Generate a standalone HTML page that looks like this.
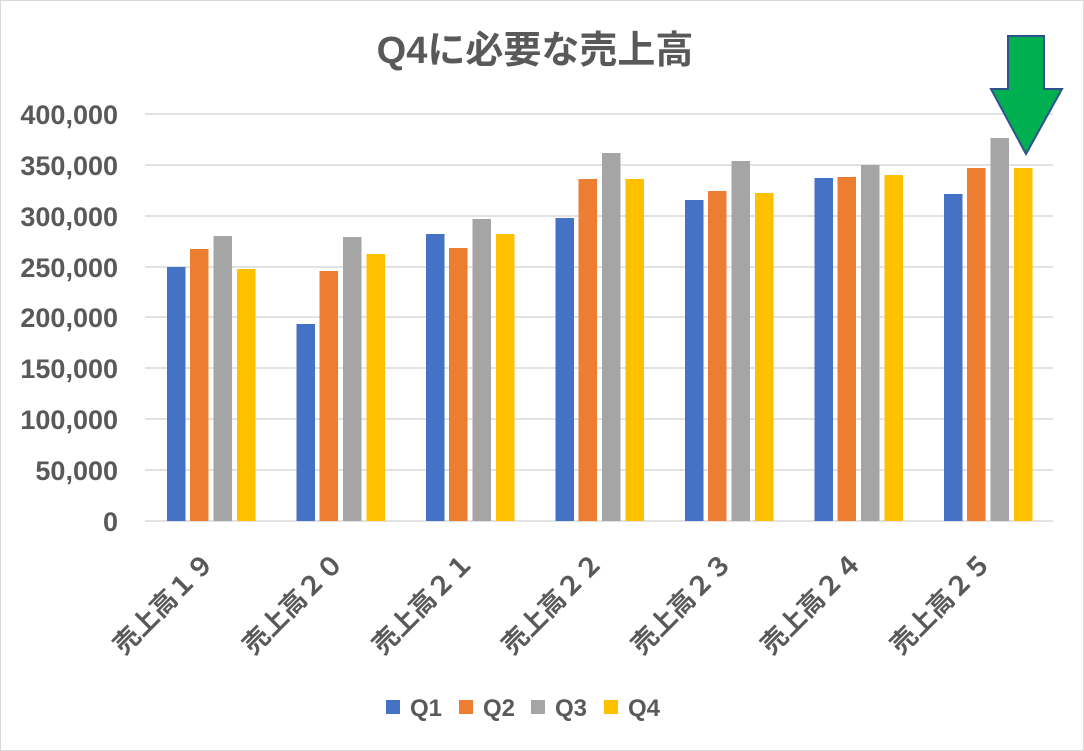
<!DOCTYPE html>
<html><head><meta charset="utf-8"><style>
html,body{margin:0;padding:0;background:#fff}
svg{display:block;font-family:"Liberation Sans","Noto Sans CJK JP",sans-serif}
</style></head><body>
<svg width="1084" height="751" xmlns="http://www.w3.org/2000/svg">
<rect x="0.5" y="0.5" width="1083" height="750" fill="#fff" stroke="#d9d9d9"/>
<text x="535" y="63" text-anchor="middle" font-size="38" font-weight="bold" fill="#595959">Q4に必要な売上高</text>
<g stroke="#d9d9d9" stroke-width="1.5">
<line x1="145" x2="1053" y1="114" y2="114"/><line x1="145" x2="1053" y1="165" y2="165"/>
<line x1="145" x2="1053" y1="216" y2="216"/><line x1="145" x2="1053" y1="267" y2="267"/>
<line x1="145" x2="1053" y1="317" y2="317"/><line x1="145" x2="1053" y1="368" y2="368"/>
<line x1="145" x2="1053" y1="419" y2="419"/><line x1="145" x2="1053" y1="470" y2="470"/>
<line x1="145" x2="1053" y1="521" y2="521"/>
</g>
<g font-size="27" font-weight="bold" fill="#595959" text-anchor="end">
<text x="118" y="124">400,000</text><text x="118" y="175">350,000</text>
<text x="118" y="226">300,000</text><text x="118" y="277">250,000</text>
<text x="118" y="327">200,000</text><text x="118" y="378">150,000</text>
<text x="118" y="429">100,000</text><text x="118" y="480">50,000</text>
<text x="118" y="531">0</text>
</g>
<g>
<rect x="167" y="267" width="18.5" height="254" fill="#4472C4"/>
<rect x="190" y="249" width="18.5" height="272" fill="#ED7D31"/>
<rect x="213.5" y="236" width="18.5" height="285" fill="#A5A5A5"/>
<rect x="237" y="269" width="18.5" height="252" fill="#FFC000"/>

<rect x="296.5" y="324" width="18.5" height="197" fill="#4472C4"/>
<rect x="319.5" y="271" width="18.5" height="250" fill="#ED7D31"/>
<rect x="343" y="237" width="18.5" height="284" fill="#A5A5A5"/>
<rect x="366.5" y="254" width="18.5" height="267" fill="#FFC000"/>

<rect x="426" y="234" width="18.5" height="287" fill="#4472C4"/>
<rect x="449" y="248" width="18.5" height="273" fill="#ED7D31"/>
<rect x="472.5" y="219" width="18.5" height="302" fill="#A5A5A5"/>
<rect x="496" y="234" width="18.5" height="287" fill="#FFC000"/>

<rect x="555.5" y="218" width="18.5" height="303" fill="#4472C4"/>
<rect x="578.5" y="179" width="18.5" height="342" fill="#ED7D31"/>
<rect x="602" y="153" width="18.5" height="368" fill="#A5A5A5"/>
<rect x="625.5" y="179" width="18.5" height="342" fill="#FFC000"/>

<rect x="685" y="200" width="18.5" height="321" fill="#4472C4"/>
<rect x="708" y="191" width="18.5" height="330" fill="#ED7D31"/>
<rect x="731.5" y="161" width="18.5" height="360" fill="#A5A5A5"/>
<rect x="755" y="193" width="18.5" height="328" fill="#FFC000"/>

<rect x="814.5" y="178" width="18.5" height="343" fill="#4472C4"/>
<rect x="837.5" y="177" width="18.5" height="344" fill="#ED7D31"/>
<rect x="861" y="165" width="18.5" height="356" fill="#A5A5A5"/>
<rect x="884.5" y="175" width="18.5" height="346" fill="#FFC000"/>

<rect x="944" y="194" width="18.5" height="327" fill="#4472C4"/>
<rect x="967" y="168" width="18.5" height="353" fill="#ED7D31"/>
<rect x="990.5" y="138" width="18.5" height="383" fill="#A5A5A5"/>
<rect x="1014" y="168" width="18.5" height="353" fill="#FFC000"/>
</g>
<g font-size="26" font-weight="bold" fill="#595959" text-anchor="end">
<text transform="translate(216,564) rotate(-45)">売上高１９</text>
<text transform="translate(345.5,564) rotate(-45)">売上高２０</text>
<text transform="translate(475,564) rotate(-45)">売上高２１</text>
<text transform="translate(604.5,564) rotate(-45)">売上高２２</text>
<text transform="translate(734,564) rotate(-45)">売上高２３</text>
<text transform="translate(863.5,564) rotate(-45)">売上高２４</text>
<text transform="translate(993,564) rotate(-45)">売上高２５</text>
</g>
<polygon points="1008,36 1044,36 1044,89 1062,89 1026,154 991,89 1008,89" fill="#00B050" stroke="#2F528F" stroke-width="2"/>
<g font-size="24" font-weight="bold" fill="#595959">
<rect x="386" y="700" width="14" height="14" fill="#4472C4"/><text x="410" y="716">Q1</text>
<rect x="459" y="700" width="14" height="14" fill="#ED7D31"/><text x="483" y="716">Q2</text>
<rect x="531" y="700" width="14" height="14" fill="#A5A5A5"/><text x="555" y="716">Q3</text>
<rect x="604" y="700" width="14" height="14" fill="#FFC000"/><text x="628" y="716">Q4</text>
</g>
</svg>
</body></html>
